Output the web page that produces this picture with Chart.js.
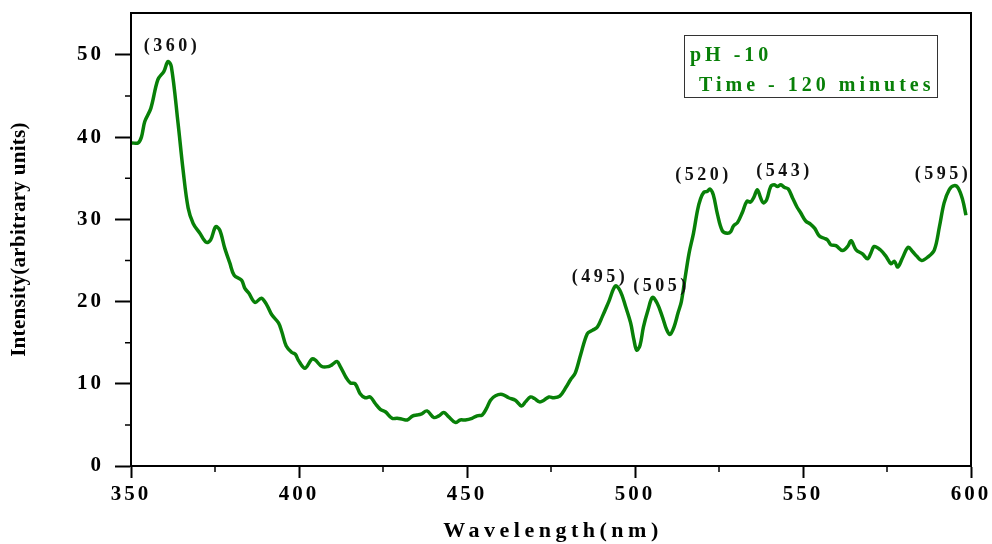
<!DOCTYPE html>
<html>
<head>
<meta charset="utf-8">
<script src="https://cdn.jsdelivr.net/npm/chart.js@4"></script>
<style>
  body { margin: 0; background: #fff; }
  canvas { display: block; }
</style>
</head>
<body>
<canvas id="spectrumChart" width="992" height="544"></canvas>
<script>
// Emission spectrum, pH 10, 120 minutes
const wavelengths = [
  350.3, 352.1, 353.1, 354.1, 355.9, 358.0, 359.8, 361.0, 362.0, 364.0,
  365.5, 367.0, 368.5, 370.5, 372.4, 373.7, 375.2, 376.4, 377.9, 379.4,
  380.7, 382.9, 383.9, 385.1, 386.9, 388.8, 390.4, 391.9, 393.9, 394.9,
  396.2, 397.9, 398.9, 399.9, 401.8, 403.8, 404.8, 406.8, 408.8, 409.8,
  411.3, 412.3, 414.1, 415.3, 416.7, 418.2, 419.7, 421.2, 422.7, 424.2,
  425.7, 427.7, 429.2, 430.7, 432.2, 433.9, 435.1, 436.3, 438.1, 440.1,
  441.6, 443.1, 444.5, 446.5, 448.0, 449.5, 451.5, 453.0, 454.5, 455.8,
  457.0, 458.5, 460.5, 462.4, 464.4, 466.2, 467.4, 468.9, 470.1, 471.6,
  472.9, 474.4, 475.8, 477.6, 479.5, 480.8, 482.2, 483.8, 485.8, 487.3,
  488.8, 490.3, 492.2, 494.2, 495.7, 497.2, 498.7, 499.7, 500.5, 501.5,
  502.5, 503.9, 505.2, 506.6, 508.1, 509.4, 510.4, 511.6, 512.8, 513.8,
  514.8, 516.1, 517.4, 518.6, 519.5, 520.5, 521.5, 522.3, 523.3, 524.5,
  526.0, 527.5, 528.5, 529.3, 530.5, 532.0, 533.3, 534.4, 535.4, 536.4,
  537.4, 538.2, 539.2, 540.4, 541.4, 542.4, 543.4, 544.4, 545.6, 546.9,
  548.2, 549.3, 550.8, 552.3, 553.5, 554.8, 556.3, 557.3, 558.3, 559.8,
  561.8, 563.3, 564.3, 565.8, 567.7, 569.2, 570.2, 571.2, 573.0, 574.7,
  576.2, 577.2, 578.2, 579.6, 581.3, 582.6, 583.9, 585.3, 587.1, 589.1,
  590.6, 592.0, 593.5, 595.0, 596.2, 597.5, 598.5
];
const intensity = [
  39.3, 39.3, 40.0, 41.9, 43.5, 47.0, 48.0, 49.2, 48.6, 41.7,
  36.0, 31.4, 29.5, 28.3, 27.2, 27.5, 29.1, 28.7, 26.5, 24.7,
  23.2, 22.6, 21.6, 21.0, 19.9, 20.4, 19.6, 18.4, 17.4, 16.3,
  14.6, 13.8, 13.6, 12.8, 11.9, 13.0, 12.9, 12.1, 12.1, 12.3,
  12.7, 12.1, 10.7, 10.1, 10.0, 8.8, 8.3, 8.4, 7.6, 6.9,
  6.6, 5.8, 5.8, 5.7, 5.6, 6.1, 6.2, 6.3, 6.7, 5.9,
  6.1, 6.5, 6.0, 5.3, 5.6, 5.6, 5.8, 6.1, 6.2, 7.0,
  8.0, 8.55, 8.7, 8.3, 8.0, 7.3, 7.8, 8.4, 8.2, 7.8,
  8.0, 8.4, 8.3, 8.5, 9.6, 10.5, 11.3, 13.5, 16.1, 16.5,
  16.9, 18.2, 20.0, 21.9, 21.2, 19.4, 17.4, 15.3, 14.1, 14.7,
  16.9, 19.0, 20.5, 19.8, 18.2, 16.6, 16.0, 16.9, 18.6, 20.0,
  22.6, 25.9, 28.3, 31.1, 32.5, 33.3, 33.4, 33.7, 33.0, 30.7,
  28.6, 28.3, 28.5, 29.2, 29.6, 30.9, 32.2, 32.1, 32.7, 33.6,
  32.6, 32.0, 32.4, 34.0, 34.2, 34.0, 34.2, 33.9, 33.7, 32.6,
  31.5, 30.8, 29.8, 29.4, 28.9, 28.0, 27.7, 27.5, 26.9, 26.8,
  26.2, 26.7, 27.4, 26.3, 25.8, 25.2, 25.9, 26.7, 26.3, 25.5,
  24.6, 24.9, 24.2, 25.3, 26.6, 26.1, 25.5, 25.0, 25.4, 26.3,
  29.1, 32.0, 33.6, 34.1, 33.8, 32.4, 30.5
];

// peak annotations, anchored in data units
const peakLabels = ['(360)', '(495)', '(505)', '(520)', '(543)', '(595)'];
const peakLabelX = [361.6, 489.0, 507.3, 519.8, 543.9, 591.1];
const peakLabelY = [51.0, 23.0, 21.9, 35.3, 35.8, 35.5];

const infoLines = ['pH -10', ' Time - 120 minutes'];
const minorX = [375, 425, 475, 525, 575];
const minorY = [5, 15, 25, 35, 45];

const SERIF = "'Liberation Serif', 'Times New Roman', serif";
const GREEN = 'rgb(8,128,8)';

const decorPlugin = {
    id: 'decor',
    beforeDraw(chart) {
        chart.ctx.letterSpacing = '3px';
    },
    afterDraw(chart) {
        const {ctx, chartArea: a, scales: {x, y}} = chart;
        ctx.save();

        // top and right frame
        ctx.strokeStyle = '#000';
        ctx.lineWidth = 2;
        ctx.beginPath();
        ctx.moveTo(a.left, a.top);
        ctx.lineTo(a.right, a.top);
        ctx.lineTo(a.right, a.bottom);
        ctx.stroke();

        // minor ticks
        ctx.lineWidth = 1.5;
        ctx.beginPath();
        minorX.forEach(v => {
            const px = x.getPixelForValue(v);
            ctx.moveTo(px, a.bottom);
            ctx.lineTo(px, a.bottom + 6);
        });
        minorY.forEach(v => {
            const py = y.getPixelForValue(v);
            ctx.moveTo(a.left, py);
            ctx.lineTo(a.left - 6, py);
        });
        ctx.stroke();

        // peak labels
        ctx.fillStyle = '#111';
        ctx.font = `bold 18px ${SERIF}`;
        ctx.letterSpacing = '3.5px';
        ctx.textAlign = 'center';
        ctx.textBaseline = 'middle';
        peakLabels.forEach((t, i) => {
            ctx.fillText(t, x.getPixelForValue(peakLabelX[i]) + 2, y.getPixelForValue(peakLabelY[i]));
        });

        // info box
        const bx = a.right - 287, by = a.top + 22;
        ctx.strokeStyle = '#333';
        ctx.lineWidth = 1;
        ctx.strokeRect(bx + 0.5, by + 0.5, 253, 62);
        ctx.fillStyle = GREEN;
        ctx.font = `bold 20px ${SERIF}`;
        ctx.letterSpacing = '4px';
        ctx.textAlign = 'left';
        ctx.textBaseline = 'alphabetic';
        ctx.fillText(infoLines[0], bx + 6, by + 26);
        ctx.fillText(infoLines[1], bx + 6, by + 56);

        // axis titles
        ctx.fillStyle = '#000';
        ctx.textAlign = 'center';
        ctx.textBaseline = 'middle';
        ctx.font = `bold 22px ${SERIF}`;
        ctx.letterSpacing = '4.5px';
        ctx.fillText('Wavelength(nm)', (a.left + a.right) / 2 + 2, 531);

        ctx.save();
        ctx.translate(20, (a.top + a.bottom) / 2);
        ctx.rotate(-Math.PI / 2);
        ctx.font = `bold 21px ${SERIF}`;
        ctx.letterSpacing = '0.3px';
        ctx.fillText('Intensity(arbitrary units)', 0, 0);
        ctx.restore();

        ctx.restore();
    }
};

const ctx = document.getElementById('spectrumChart').getContext('2d');
new Chart(ctx, {
    type: 'line',
    data: {
        datasets: [{
            label: 'pH 10, 120 min',
            data: wavelengths.map((w, i) => ({x: w, y: intensity[i]})),
            borderColor: GREEN,
            borderWidth: 3.5,
            pointRadius: 0,
            tension: 0.35,
            fill: false
        }]
    },
    options: {
        responsive: false,
        animation: false,
        devicePixelRatio: 1,
        layout: {
            padding: {top: 13, right: 21, left: 0, bottom: 0}
        },
        plugins: {
            legend: {display: false},
            tooltip: {enabled: false}
        },
        scales: {
            x: {
                type: 'linear',
                min: 350,
                max: 600,
                afterFit: s => { s.height = 78; s.paddingLeft = 0; s.paddingRight = 0; },
                ticks: {
                    stepSize: 50,
                    color: '#000',
                    padding: 4,
                    maxRotation: 0,
                    font: {family: SERIF, size: 21, weight: 'bold'}
                },
                grid: {
                    drawOnChartArea: false,
                    drawTicks: true,
                    tickLength: 12,
                    tickWidth: 2,
                    tickColor: '#000'
                },
                border: {display: true, color: '#000', width: 2}
            },
            y: {
                min: 0,
                max: 55.1,
                afterFit: s => { s.width = 131; s.paddingTop = 0; s.paddingBottom = 0; },
                afterBuildTicks: s => { s.ticks = s.ticks.filter(t => t.value % 10 === 0); },
                ticks: {
                    stepSize: 10,
                    color: '#000',
                    padding: 11,
                    font: {family: SERIF, size: 21, weight: 'bold'}
                },
                grid: {
                    drawOnChartArea: false,
                    drawTicks: true,
                    tickLength: 16,
                    tickWidth: 2,
                    tickColor: '#000'
                },
                border: {display: true, color: '#000', width: 2}
            }
        }
    },
    plugins: [decorPlugin]
});
</script>
</body>
</html>
